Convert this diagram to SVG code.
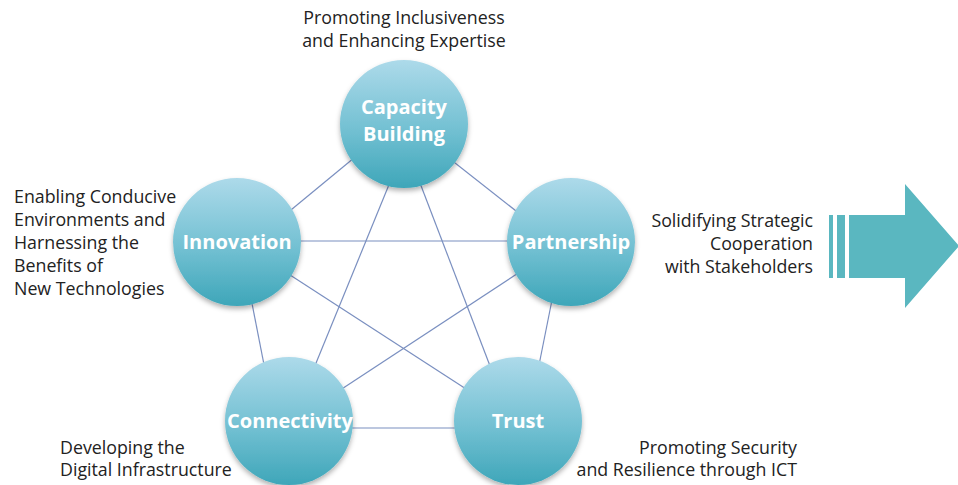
<svg xmlns="http://www.w3.org/2000/svg" width="958" height="485" viewBox="0 0 958 485">
<defs>
<linearGradient id="g" x1="0" y1="0" x2="0" y2="1">
<stop offset="0" stop-color="#addaea"/>
<stop offset="0.55" stop-color="#72c0d2"/>
<stop offset="1" stop-color="#3ea6b9"/>
</linearGradient>
<filter id="sh" x="-20%" y="-20%" width="140%" height="150%">
<feDropShadow dx="0" dy="3" stdDeviation="2.5" flood-color="#000" flood-opacity="0.3"/>
</filter>
<style>
.c{fill:url(#g);filter:url(#sh)}
.n{font-family:"Open Sans","Noto Sans","Liberation Sans",sans-serif;font-weight:bold;font-size:20px;fill:#fff;text-anchor:middle}
.l{font-family:"Open Sans","Noto Sans","Liberation Sans",sans-serif;font-size:17.8px;fill:#222}
.e{stroke:#7a8fc0;stroke-width:1.2;fill:none}
</style>
</defs>
<rect width="958" height="485" fill="#fff"/>
<g id="connectors">
<line class="e" x1="280" y1="219" x2="360" y2="153"/>
<line class="e" x1="450" y1="159" x2="525" y2="218"/>
<line class="e" x1="280" y1="241" x2="530" y2="241"/>
<line class="e" x1="395" y1="170" x2="305" y2="390"/>
<line class="e" x1="415" y1="170" x2="500" y2="392"/>
<line class="e" x1="270" y1="262" x2="480" y2="398"/>
<line class="e" x1="535" y1="262" x2="325" y2="400"/>
<line class="e" x1="248" y1="283" x2="268" y2="385"/>
<line class="e" x1="556" y1="280" x2="535" y2="385"/>
<line class="e" x1="320" y1="428" x2="490" y2="428"/>
</g>
<g id="capacity">
<circle class="c" cx="404" cy="124" r="64"/>
<text class="n" x="404" y="114">Capacity</text>
<text class="n" x="404" y="141">Building</text>
</g>
<g id="innovation">
<circle class="c" cx="237" cy="242" r="64"/>
<text class="n" x="237" y="249">Innovation</text>
</g>
<g id="partnership">
<circle class="c" cx="571" cy="242" r="64"/>
<text class="n" x="571" y="249">Partnership</text>
</g>
<g id="connectivity">
<circle class="c" cx="289" cy="421" r="64"/>
<text class="n" x="290" y="428">Connectivity</text>
</g>
<g id="trust">
<circle class="c" cx="518" cy="421" r="64"/>
<text class="n" x="518" y="428">Trust</text>
</g>
<g id="label-capacity">
<text class="l" x="404" y="24" text-anchor="middle">Promoting Inclusiveness</text>
<text class="l" x="404" y="47" text-anchor="middle">and Enhancing Expertise</text>
</g>
<g id="label-innovation">
<text class="l" x="14" y="203">Enabling Conducive</text>
<text class="l" x="14" y="226">Environments and</text>
<text class="l" x="14" y="249">Harnessing the</text>
<text class="l" x="14" y="272">Benefits of</text>
<text class="l" x="14" y="295">New Technologies</text>
</g>
<g id="label-partnership">
<text class="l" x="813" y="227" text-anchor="end">Solidifying Strategic</text>
<text class="l" x="813" y="250" text-anchor="end">Cooperation</text>
<text class="l" x="813" y="273" text-anchor="end">with Stakeholders</text>
</g>
<g id="label-connectivity">
<text class="l" x="60" y="454">Developing the</text>
<text class="l" x="60" y="476">Digital Infrastructure</text>
</g>
<g id="label-trust">
<text class="l" x="797" y="454" text-anchor="end">Promoting Security</text>
<text class="l" x="797" y="476" text-anchor="end">and Resilience through ICT</text>
</g>
<g id="arrow" fill="#5ab7c0">
<rect x="829" y="215" width="4" height="63"/>
<rect x="837" y="215" width="8" height="63"/>
<polygon points="849,215 905,215 905,184 959,246 905,308 905,278 849,278"/>
</g>
</svg>
